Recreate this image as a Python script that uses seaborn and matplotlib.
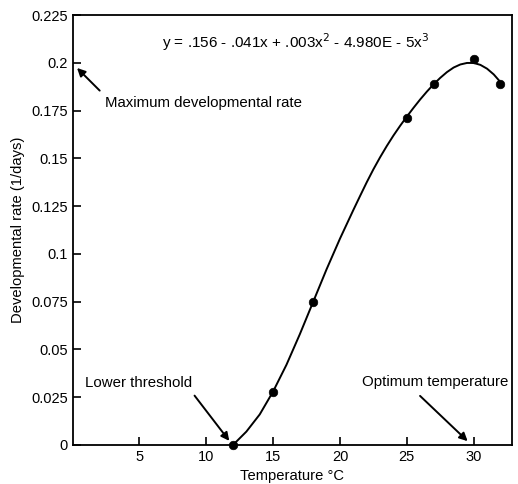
import seaborn as sns
import matplotlib.pyplot as plt
import pandas as pd

# observed development rates
temp_obs = [12, 15, 18, 25, 27, 30, 32]
rate_obs = [0.0, 0.028, 0.075, 0.171, 0.189, 0.202, 0.189]

# fitted curve
temp_fit = [12, 13, 14, 15, 16, 17, 18, 19, 20, 21, 21.5, 22, 22.5, 23, 23.5, 24, 24.5, 25,
            25.5, 26, 26.5, 27, 27.5, 28, 28.5, 29, 29.5, 30, 30.5, 31, 31.5, 32]
rate_fit = [0.0, 0.007, 0.016, 0.028, 0.042, 0.058, 0.075, 0.092, 0.108, 0.123, 0.1303,
            0.1375, 0.1443, 0.1506, 0.1565, 0.162, 0.1671, 0.1719, 0.1765, 0.1809, 0.185,
            0.1888, 0.1922, 0.1952, 0.1976, 0.1992, 0.2, 0.2, 0.199, 0.197, 0.194, 0.190]

x_ticks = [5, 10, 15, 20, 25, 30]
y_ticks = [0, 0.025, 0.05, 0.075, 0.1, 0.125, 0.15, 0.175, 0.2, 0.225]
y_labels = ['0', '0.025', '0.05', '0.075', '0.1', '0.125', '0.15', '0.175', '0.2', '0.225']

sns.set_style("ticks")
plt.rcParams['font.family'] = ['Liberation Sans', 'DejaVu Sans']
plt.rcParams['text.color'] = 'black'
plt.rcParams['axes.labelcolor'] = 'black'
plt.rcParams['xtick.color'] = 'black'
plt.rcParams['ytick.color'] = 'black'

obs = pd.DataFrame({'temp': temp_obs, 'rate': rate_obs})
fit = pd.DataFrame({'temp': temp_fit, 'rate': rate_fit})

fig = plt.figure(figsize=(5.18, 4.84), dpi=100)
ax = fig.add_axes([0.14, 0.0806, 0.848, 0.888])

sns.lineplot(data=fit, x='temp', y='rate', color='black', linewidth=1.4, ax=ax)
sns.scatterplot(data=obs, x='temp', y='rate', color='black', s=38, edgecolor='black', ax=ax, zorder=3, clip_on=False)

ax.set_xlim(0, 32.85)
ax.set_ylim(0, 0.225)
ax.set_xticks(x_ticks)
ax.set_yticks(y_ticks)
ax.set_yticklabels(y_labels)
ax.tick_params(direction='in', length=6, width=1.2, labelsize=10.5)
for s in ax.spines.values():
    s.set_linewidth(1.3)
    s.set_color('black')

ax.set_xlabel('Temperature °C', fontsize=10.6, labelpad=4)
ax.set_ylabel('Developmental rate (1/days)', fontsize=10.6, labelpad=4)

ax.text(6.7, 0.211, r'y = .156 - .041x + .003x$^2$ - 4.980E - 5x$^3$', fontsize=11, va='center')
ax.text(2.43, 0.179, 'Maximum developmental rate', fontsize=10.8, va='center')
ax.text(0.93, 0.0324, 'Lower threshold', fontsize=10.8, va='center')
ax.text(21.65, 0.033, 'Optimum temperature', fontsize=10.8, va='center')

arrow = dict(arrowstyle='-|>', color='black', lw=1.4, mutation_scale=12)
ax.annotate('', xy=(0.19, 0.1984), xytext=(2.18, 0.1845), arrowprops=arrow)
ax.annotate('', xy=(11.85, 0.001), xytext=(9.0, 0.027), arrowprops=arrow)
ax.annotate('', xy=(29.7, 0.001), xytext=(25.84, 0.0267), arrowprops=arrow)

plt.savefig('out.png', dpi=100)
